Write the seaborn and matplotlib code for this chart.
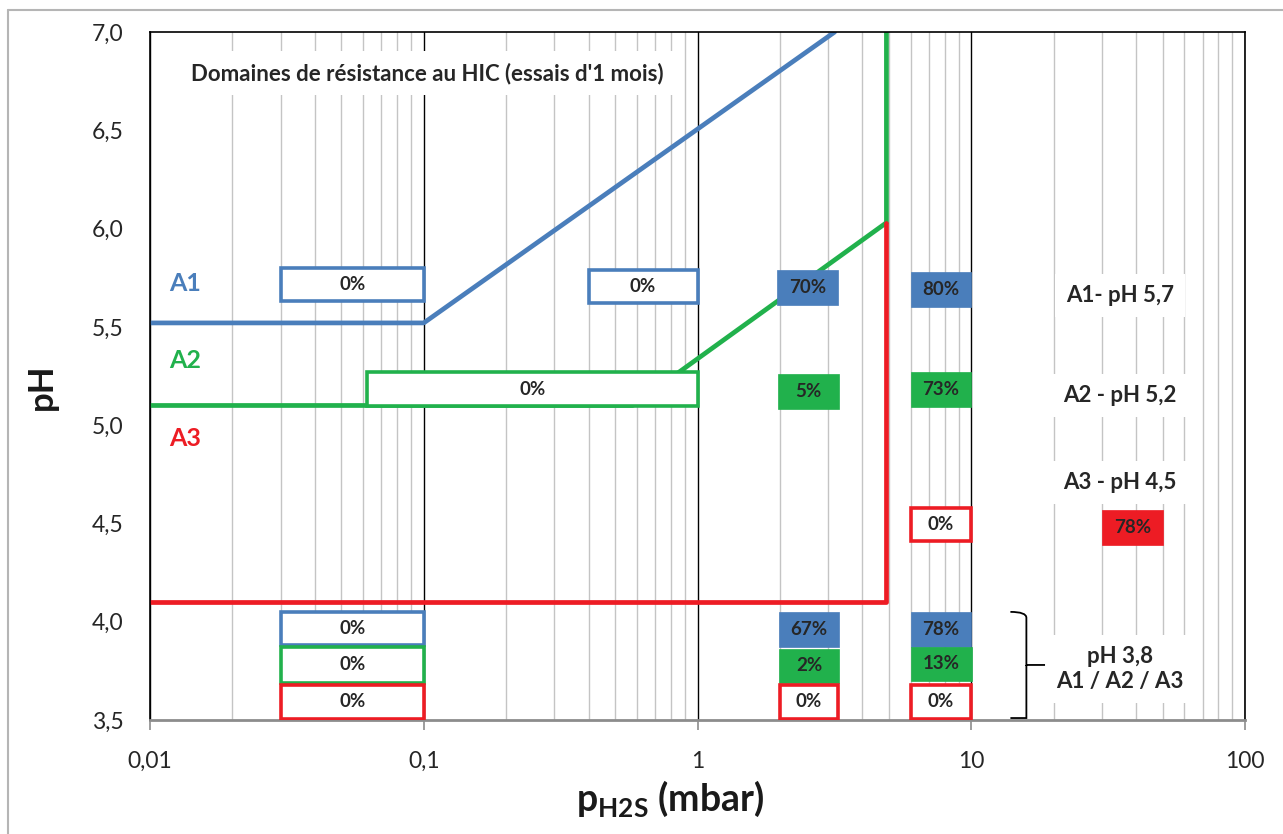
import matplotlib
matplotlib.use("Agg")
import matplotlib.pyplot as plt
from matplotlib.patches import Rectangle, PathPatch
from matplotlib.path import Path
from matplotlib.lines import Line2D
from matplotlib.ticker import FixedLocator, FuncFormatter, LogLocator, NullFormatter
import numpy as np
import pandas as pd
import seaborn as sns

# limit lines of the HIC resistance domains (pH vs pH2S)
blue_p = [0.01, 0.1, 3.17]
blue_ph = [5.52, 5.52, 7.0]
green_p = [0.01, 0.58, 4.9, 4.9]
green_ph = [5.1, 5.1, 6.03, 7.0]
red_p = [0.01, 4.9, 4.9]
red_ph = [4.1, 4.1, 6.03]

# test results (boxes)
box_text = ['0%', '0%', '70%', '80%', '0%', '5%', '73%', '0%', '78%',
            '0%', '0%', '0%', '67%', '2%', '0%', '78%', '13%', '0%']
box_grade = ['A1', 'A1', 'A1', 'A1', 'A2', 'A2', 'A2', 'A3', 'A3',
             'A1', 'A2', 'A3', 'A1', 'A2', 'A3', 'A1', 'A2', 'A3']
box_filled = [False, False, True, True, False, True, True, False, True,
              False, False, False, True, True, False, True, True, False]
box_p0 = [0.03, 0.4, 1.95, 6.0, 0.062, 1.96, 6.0, 6.0, 30,
          0.03, 0.03, 0.03, 1.98, 1.98, 2.0, 6.0, 6.0, 6.0]
box_p1 = [0.1, 1.0, 3.25, 10, 1.0, 3.3, 10, 10, 50,
          0.1, 0.1, 0.1, 3.3, 3.3, 3.25, 10, 10.1, 10]
box_ph0 = [5.63, 5.62, 5.61, 5.60, 5.095, 5.08, 5.09, 4.41, 4.39,
           3.88, 3.69, 3.505, 3.87, 3.69, 3.505, 3.87, 3.70, 3.505]
box_ph1 = [5.80, 5.79, 5.79, 5.78, 5.27, 5.26, 5.27, 4.58, 4.57,
           4.05, 3.87, 3.68, 4.05, 3.86, 3.68, 4.05, 3.87, 3.68]

x_ticks = [0.01, 0.1, 1, 10, 100]
x_ticklabels = ['0,01', '0,1', '1', '10', '100']
y_ticks = [3.5, 4.0, 4.5, 5.0, 5.5, 6.0, 6.5, 7.0]

colors = {'A1': '#4a7ebb', 'A2': '#21b14c', 'A3': '#ed1c24'}

sns.set_theme(style="white")
plt.rcParams['font.family'] = ['Lato', 'DejaVu Sans']
plt.rcParams['mathtext.fontset'] = 'custom'
plt.rcParams['mathtext.rm'] = 'Lato'
plt.rcParams['mathtext.bf'] = 'Lato:bold'

lines = pd.concat([
    pd.DataFrame({'p': blue_p, 'pH': blue_ph, 'grade': 'A1'}),
    pd.DataFrame({'p': green_p, 'pH': green_ph, 'grade': 'A2'}),
    pd.DataFrame({'p': red_p, 'pH': red_ph, 'grade': 'A3'}),
], ignore_index=True)

fig = plt.figure(figsize=(12.83, 8.34), dpi=100)
ax = fig.add_axes([150 / 1283, 1 - 720 / 834, 1095 / 1283, 688 / 834])
ax.set_xscale('log')

sns.lineplot(data=lines, x='p', y='pH', hue='grade', palette=colors,
             estimator=None, sort=False, lw=3.4, legend=False, ax=ax, zorder=2)

ax.set_xlim(0.01, 100)
ax.set_ylim(3.5, 7.0)

# grid: grey minor lines, black decades
ax.xaxis.set_major_locator(FixedLocator(x_ticks))
ax.xaxis.set_major_formatter(FuncFormatter(lambda v, i: x_ticklabels[i] if i is not None and i < len(x_ticklabels) else ''))
ax.xaxis.set_minor_locator(LogLocator(base=10, subs=np.arange(2, 10)))
ax.xaxis.set_minor_formatter(NullFormatter())
ax.grid(False)
ax.xaxis.grid(True, which='minor', color='#c4c4c4', lw=1.0, zorder=0)
ax.xaxis.grid(True, which='major', color='black', lw=1.0, zorder=0)
ax.set_axisbelow(True)

ax.yaxis.set_major_locator(FixedLocator(y_ticks))
ax.yaxis.set_major_formatter(FuncFormatter(lambda v, i: f'{v:.1f}'.replace('.', ',')))

ax.tick_params(axis='x', which='major', direction='out', length=7, width=1.2,
               color='#8c8c8c', pad=15, labelsize=16.5, labelcolor='#262626', bottom=True)
ax.tick_params(axis='x', which='minor', length=0)
ax.tick_params(axis='y', length=0, pad=19, labelsize=16.5, labelcolor='#262626')

for side in ['top', 'left', 'right']:
    ax.spines[side].set_color('black')
    ax.spines[side].set_linewidth(1.2)
ax.spines['bottom'].set_color('#8c8c8c')
ax.spines['bottom'].set_linewidth(2.0)

ax.set_xlabel('')
ax.set_ylabel('')

# result boxes
for t, g, f, p0, p1, y0, y1 in zip(box_text, box_grade, box_filled,
                                   box_p0, box_p1, box_ph0, box_ph1):
    c = colors[g]
    if f:
        r = Rectangle((p0, y0), p1 - p0, y1 - y0, facecolor=c, edgecolor=c,
                      lw=0.5, zorder=3)
    else:
        r = Rectangle((p0, y0), p1 - p0, y1 - y0, facecolor='white', edgecolor=c,
                      lw=2.6, zorder=3)
    ax.add_patch(r)
    ax.text(np.sqrt(p0 * p1), (y0 + y1) / 2, t, ha='center', va='center',
            fontsize=13.5, fontweight='bold', color='#262626', zorder=4)

# grade labels on the left
ax.text(0.0134, 5.72, 'A1', color=colors['A1'], fontsize=18, fontweight='bold',
        ha='center', va='center', zorder=4)
ax.text(0.0134, 5.33, 'A2', color=colors['A2'], fontsize=18, fontweight='bold',
        ha='center', va='center', zorder=4)
ax.text(0.0134, 4.93, 'A3', color=colors['A3'], fontsize=18, fontweight='bold',
        ha='center', va='center', zorder=4)

wbox = dict(facecolor='white', edgecolor='none', pad=8)
ax.text(0.0141, 6.79, "Domaines de résistance au HIC (essais d'1 mois)",
        fontsize=16, fontweight='bold', color='#262626', ha='left', va='center',
        bbox=wbox, zorder=4)

right_labels = ['A1- pH 5,7', 'A2 - pH 5,2', 'A3 - pH 4,5', 'pH 3,8\nA1 / A2 / A3']
right_ph = [5.66, 5.15, 4.71, 3.76]
for lab, yv in zip(right_labels, right_ph):
    ax.text(35, yv, lab, fontsize=16, fontweight='bold', color='#262626',
            ha='center', va='center', linespacing=1.25, bbox=wbox, zorder=4)

# curly brace grouping the pH 3,8 results
xl, xm, xt = 13.9, 15.9, 18.6
yt, ym, yb = 4.05, 3.78, 3.51
verts = [(xl, yt), (xm, yt), (xm, yt - 0.03), (xm, yt - 0.08),
         (xm, ym + 0.04), (xm, ym + 0.01), (xm, ym), (xt, ym),
         (xm, ym), (xm, ym - 0.01), (xm, ym - 0.04),
         (xm, yb + 0.08), (xm, yb + 0.03), (xm, yb), (xl, yb)]
codes = [Path.MOVETO, Path.CURVE3, Path.CURVE3, Path.LINETO,
         Path.LINETO, Path.CURVE3, Path.CURVE3, Path.LINETO,
         Path.MOVETO, Path.CURVE3, Path.CURVE3,
         Path.LINETO, Path.CURVE3, Path.CURVE3, Path.LINETO]
ax.add_patch(PathPatch(Path(verts, codes), facecolor='none', edgecolor='black',
                       lw=1.3, zorder=4, clip_on=False))

# axis titles
ax.text(-0.0986, 0.484, 'pH', transform=ax.transAxes, rotation=90,
        ha='center', va='center', fontsize=25, fontweight='bold', color='#1a1a1a')
ax.text(0.475, -0.115, r'$\mathbf{p}_{\mathbf{H2S}}$ (mbar)', transform=ax.transAxes,
        ha='center', va='center', fontsize=27, fontweight='bold', color='#1a1a1a')

# outer frame of the original figure
fig.add_artist(Line2D([8 / 1283, 8 / 1283], [0, 1 - 10 / 834], color='#b5b5b5',
                      lw=1.5, transform=fig.transFigure))
fig.add_artist(Line2D([8 / 1283, 1], [1 - 10 / 834, 1 - 10 / 834], color='#b5b5b5',
                      lw=1.5, transform=fig.transFigure))

fig.savefig('out.png', dpi=100, facecolor='white')
